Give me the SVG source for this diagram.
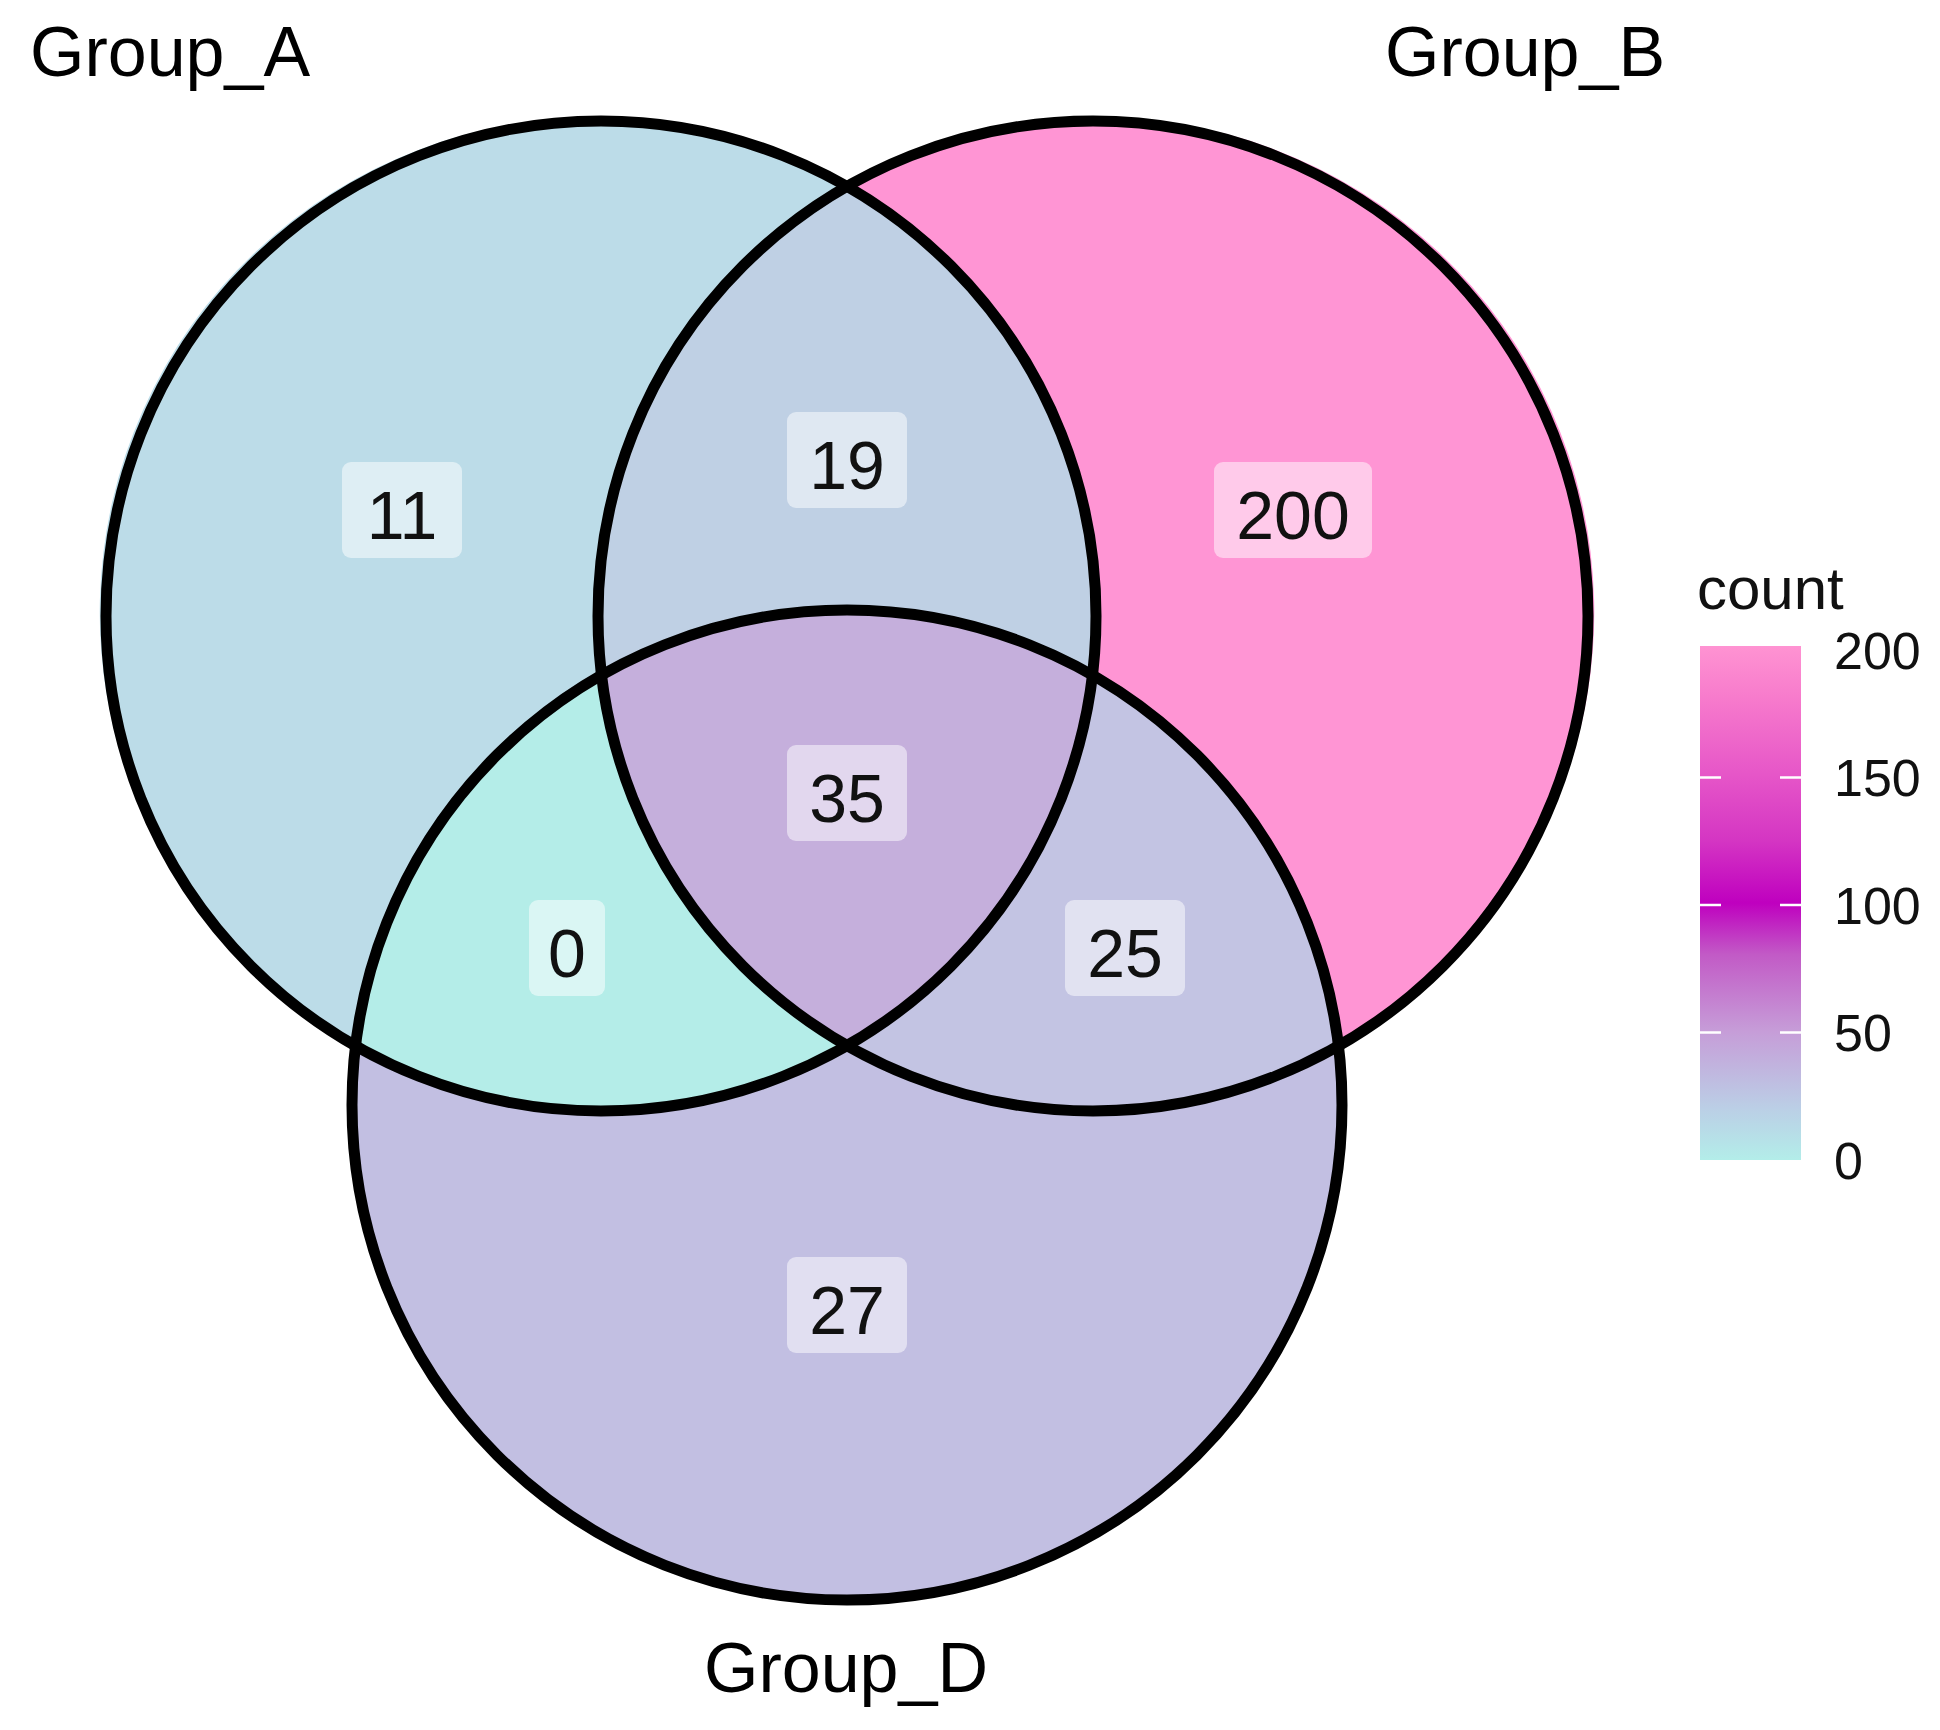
<svg xmlns="http://www.w3.org/2000/svg" width="1940" height="1730" viewBox="0 0 1940 1730">
<style>
.grp{font-family:"Liberation Sans",Arial,sans-serif;font-size:70px;fill:#000}
.num{font-family:"Liberation Sans",Arial,sans-serif;font-size:68px;fill:#111;text-anchor:middle}
.box{fill:#ffffff;fill-opacity:0.5}
.ring{fill:none;stroke:#000;stroke-width:11}
.leg{font-family:"Liberation Sans",Arial,sans-serif;font-size:52px;fill:#111}
.tick{stroke:#fff;stroke-width:2.5}
</style>
<defs>
<linearGradient id="cbar" x1="0" y1="1" x2="0" y2="0">
<stop offset="0" stop-color="#B3EDE9"/>
<stop offset="0.1" stop-color="#BBCFE6"/>
<stop offset="0.25" stop-color="#C69DD8"/>
<stop offset="0.4" stop-color="#C25AC6"/>
<stop offset="0.5" stop-color="#BF00BF"/>
<stop offset="0.62" stop-color="#D435C3"/>
<stop offset="0.75" stop-color="#E656C8"/>
<stop offset="0.9" stop-color="#F77BCC"/>
<stop offset="1" stop-color="#FF93D2"/>
</linearGradient>
</defs>
<rect width="1940" height="1730" fill="#fff"/>
<g id="regions">
<path id="r_A" fill="#BCDCE8" d="M847,186.5 A495,495 0 1 0 355.6,1045.8 A495,495 0 0 1 601.6,675.2 A495,495 0 0 1 847,186.5 Z"/>
<path id="r_B" fill="#FF95D4" d="M847,186.5 A495,495 0 1 1 1338.4,1045.8 A495,495 0 0 0 1092.4,675.2 A495,495 0 0 0 847,186.5 Z"/>
<path id="r_D" fill="#C2BFE2" d="M355.6,1045.8 A495,495 0 1 0 1338.4,1045.8 A495,495 0 0 1 847,1045.5 A495,495 0 0 1 355.6,1045.8 Z"/>
<path id="r_AB" fill="#BFD0E4" d="M847,186.5 A495,495 0 0 1 1092.4,675.2 A495,495 0 0 0 601.6,675.2 A495,495 0 0 1 847,186.5 Z"/>
<path id="r_AD" fill="#B4EDE8" d="M355.6,1045.8 A495,495 0 0 1 601.6,675.2 A495,495 0 0 0 847,1045.5 A495,495 0 0 1 355.6,1045.8 Z"/>
<path id="r_BD" fill="#C3C4E3" d="M1092.4,675.2 A495,495 0 0 1 1338.4,1045.8 A495,495 0 0 1 847,1045.5 A495,495 0 0 0 1092.4,675.2 Z"/>
<path id="r_ABD" fill="#C5AFDC" d="M601.6,675.2 A495,495 0 0 1 1092.4,675.2 A495,495 0 0 1 847,1045.5 A495,495 0 0 1 601.6,675.2 Z"/>
</g>
<g id="connectors"></g>
<g id="circles">
<circle id="circle_A" class="ring" cx="601" cy="616" r="495"/>
<circle id="circle_B" class="ring" cx="1093" cy="616" r="495"/>
<circle id="circle_D" class="ring" cx="847" cy="1105" r="495"/>
</g>
<g id="counts">
<g id="n_A"><rect class="box" x="342" y="462" width="120" height="96" rx="9"/><text class="num" x="402" y="539">11</text></g>
<g id="n_AB"><rect class="box" x="787" y="412" width="120" height="96" rx="9"/><text class="num" x="847" y="489">19</text></g>
<g id="n_B"><rect class="box" x="1214" y="462" width="158" height="96" rx="9"/><text class="num" x="1293" y="539">200</text></g>
<g id="n_ABD"><rect class="box" x="787" y="745" width="120" height="96" rx="9"/><text class="num" x="847" y="822">35</text></g>
<g id="n_AD"><rect class="box" x="529" y="900" width="76" height="96" rx="9"/><text class="num" x="567" y="977">0</text></g>
<g id="n_BD"><rect class="box" x="1065" y="900" width="120" height="96" rx="9"/><text class="num" x="1125" y="977">25</text></g>
<g id="n_D"><rect class="box" x="787" y="1257" width="120" height="96" rx="9"/><text class="num" x="847" y="1334">27</text></g>
</g>
<g id="set_labels">
<text id="lab_A" class="grp" x="30" y="76">Group_A</text>
<text id="lab_B" class="grp" x="1385" y="76">Group_B</text>
<text id="lab_D" class="grp" x="846" y="1692" text-anchor="middle">Group_D</text>
</g>
<g id="legend">
<text class="leg" x="1697" y="609" style="font-size:60px">count</text>
<rect x="1700" y="646" width="101" height="514" fill="url(#cbar)"/>
<line class="tick" x1="1700" y1="777.5" x2="1721" y2="777.5"/><line class="tick" x1="1780" y1="777.5" x2="1801" y2="777.5"/>
<line class="tick" x1="1700" y1="905" x2="1721" y2="905"/><line class="tick" x1="1780" y1="905" x2="1801" y2="905"/>
<line class="tick" x1="1700" y1="1032.5" x2="1721" y2="1032.5"/><line class="tick" x1="1780" y1="1032.5" x2="1801" y2="1032.5"/>
<text class="leg" x="1834" y="669">200</text>
<text class="leg" x="1834" y="796">150</text>
<text class="leg" x="1834" y="924">100</text>
<text class="leg" x="1834" y="1051">50</text>
<text class="leg" x="1834" y="1179">0</text>
</g>
</svg>
